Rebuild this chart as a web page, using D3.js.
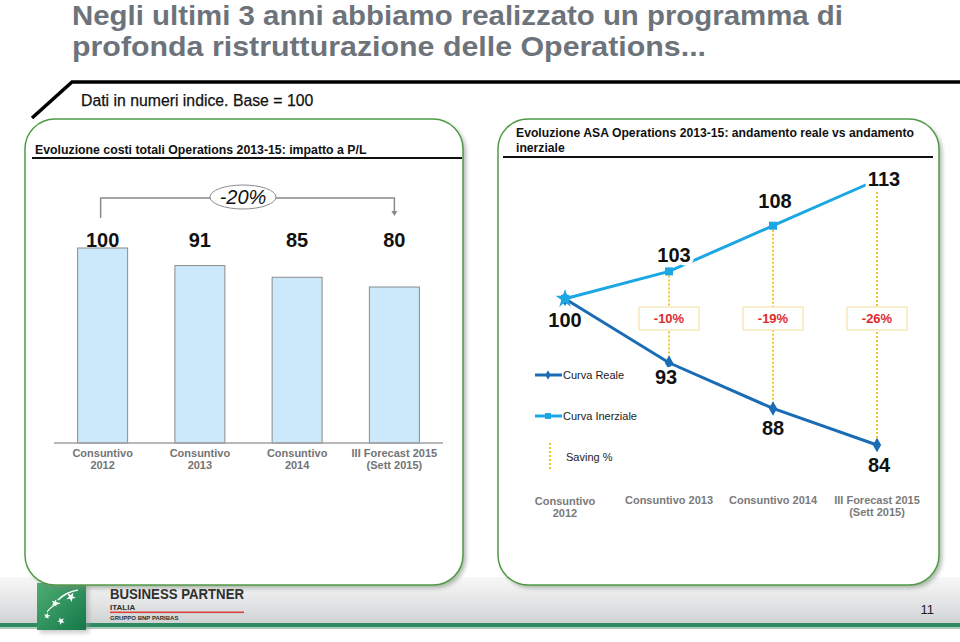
<!DOCTYPE html>
<html><head><meta charset="utf-8">
<script src="https://cdn.jsdelivr.net/npm/d3@7"></script>
<style>
html,body{margin:0;padding:0;background:#fff;}
svg{display:block;font-family:"Liberation Sans",Arial,Helvetica,sans-serif;}
</style></head>
<body>
<svg id="c" width="960" height="642"></svg>
<script>
// ---- data ----
const titleLines = ["Negli ultimi 3 anni abbiamo realizzato un programma di", "profonda ristrutturazione delle Operations..."];
const subtitle = "Dati in numeri indice. Base = 100";
const leftHeader = "Evoluzione costi totali Operations 2013-15: impatto a P/L";
const rightHeader = ["Evoluzione ASA Operations 2013-15: andamento reale vs andamento", "inerziale"];
const barCategories = [["Consuntivo","2012"],["Consuntivo","2013"],["Consuntivo","2014"],["III Forecast 2015","(Sett 2015)"]];
const barValues = [100, 91, 85, 80];
const totalChange = "-20%";
const lineCategories = [["Consuntivo","2012"],["Consuntivo 2013"],["Consuntivo 2014"],["III Forecast 2015","(Sett 2015)"]];
const realeValues = [100, 93, 88, 84];
const inerzialeValues = [100, 103, 108, 113];
const savingLabels = [null, "-10%", "-19%", "-26%"];
const legendLabels = ["Curva Reale", "Curva Inerziale", "Saving %"];
const pageNumber = "11";

const svg = d3.select("#c");
const defs = svg.append("defs");
const f = defs.append("filter").attr("id","sh").attr("x","-5%").attr("y","-5%").attr("width","115%").attr("height","115%");
f.append("feGaussianBlur").attr("stdDeviation",2);
const g1 = defs.append("linearGradient").attr("id","band").attr("x1",0).attr("y1",0).attr("x2",0).attr("y2",1);
g1.append("stop").attr("offset","0%").attr("stop-color","#f7f7f7");
g1.append("stop").attr("offset","60%").attr("stop-color","#e2e3e4");
g1.append("stop").attr("offset","100%").attr("stop-color","#cfd2d3");
const g2 = defs.append("linearGradient").attr("id","logo").attr("x1",0).attr("y1",0).attr("x2",1).attr("y2",1);
g2.append("stop").attr("offset","0%").attr("stop-color","#4fae72");
g2.append("stop").attr("offset","100%").attr("stop-color","#13774a");

// ---- footer ----
svg.append("rect").attr("x",0).attr("y",577).attr("width",960).attr("height",46).attr("fill","url(#band)");
svg.append("rect").attr("x",0).attr("y",623).attr("width",960).attr("height",4).attr("fill","#2f8a62");
svg.append("rect").attr("x",0).attr("y",627).attr("width",960).attr("height",2).attr("fill","#a9cdb8");
svg.append("rect").attr("x",40).attr("y",586).attr("width",49).attr("height",47).attr("fill","#999").attr("opacity",0.5).attr("filter","url(#sh)");
svg.append("rect").attr("x",37).attr("y",583).attr("width",49).attr("height",47).attr("fill","url(#logo)");
function star(cx, cy, r, rot){
  const pts=[];
  for(let i=0;i<10;i++){const a=rot+i*Math.PI/5; const rr=i%2?r*0.4:r; pts.push([cx+rr*Math.sin(a), cy-rr*Math.cos(a)]);}
  svg.append("path").attr("d","M"+pts.join("L")+"Z").attr("fill","#fff");
}
star(71,597,5,0.5); star(55,603,4,0.3); star(47,616,3.5,0.2); star(61,621,4,0.8);
svg.append("path").attr("d","M58,600 Q66,592 78,590").attr("stroke","#fff").attr("stroke-width",1.5).attr("fill","none");
svg.append("path").attr("d","M47,612 Q52,605 60,603").attr("stroke","#fff").attr("stroke-width",1.2).attr("fill","none");
svg.append("text").attr("x",110).attr("y",599).attr("font-size",14).attr("font-weight","bold").attr("fill","#2e2e2e").attr("textLength",134).attr("lengthAdjust","spacingAndGlyphs").text("BUSINESS PARTNER");
svg.append("text").attr("x",110).attr("y",609.5).attr("font-size",8).attr("font-weight","bold").attr("fill","#2e2e2e").text("ITALIA");
svg.append("rect").attr("x",110).attr("y",611.5).attr("width",134).attr("height",1.6).attr("fill","#d9443f");
svg.append("text").attr("x",110).attr("y",620).attr("font-size",6).attr("font-weight","bold").attr("fill","#2e2e2e").text("GRUPPO BNP PARIBAS");
svg.append("text").attr("x",934).attr("y",614).attr("font-size",13).attr("fill","#222").attr("text-anchor","end").text(pageNumber);

// ---- title ----
const titleWidths = [771, 634];
svg.selectAll("text.title").data(titleLines).enter().append("text")
  .attr("x",72).attr("y",(d,i)=>25+i*31).attr("font-size",27).attr("font-weight","bold").attr("fill","#6d737a")
  .attr("textLength",(d,i)=>titleWidths[i]).attr("lengthAdjust","spacingAndGlyphs").text(d=>d);
svg.append("path").attr("d","M32,118 L72,82 L960,82").attr("stroke","#000").attr("stroke-width",3.5).attr("fill","none");
svg.append("text").attr("x",81).attr("y",106).attr("font-size",15.8).attr("fill","#111").attr("stroke","#111").attr("stroke-width",0.25).text(subtitle);

// ---- panels ----
function panel(x,y,w,h){
  svg.append("rect").attr("x",x+3).attr("y",y+3).attr("width",w).attr("height",h).attr("rx",30).attr("fill","#7a8a78").attr("opacity",0.6).attr("filter","url(#sh)");
  svg.append("rect").attr("x",x).attr("y",y).attr("width",w).attr("height",h).attr("rx",30).attr("fill","#fff").attr("stroke","#4f9a45").attr("stroke-width",1.5);
}
panel(25,119,438,466);
panel(498,119,441,466);

svg.append("text").attr("x",35).attr("y",154).attr("font-size",12.3).attr("font-weight","bold").attr("fill","#111").text(leftHeader);
svg.append("line").attr("x1",32).attr("x2",462).attr("y1",158).attr("y2",158).attr("stroke","#111").attr("stroke-width",2);
svg.selectAll("text.rh").data(rightHeader).enter().append("text")
  .attr("x",516).attr("y",(d,i)=>137+i*15).attr("font-size",12.2).attr("font-weight","bold").attr("fill","#111").text(d=>d);
svg.append("line").attr("x1",503).attr("x2",933).attr("y1",157).attr("y2",157).attr("stroke","#111").attr("stroke-width",2);

// ---- bar chart ----
const xb = d3.scaleBand().domain(d3.range(barValues.length)).range([54,443]).paddingInner(0.486).paddingOuter(0.243);
const yb = d3.scaleLinear().domain([0,100]).range([443,248]);
svg.selectAll("rect.bar").data(barValues).enter().append("rect")
  .attr("x",(d,i)=>xb(i)).attr("y",d=>yb(d)).attr("width",xb.bandwidth()).attr("height",d=>yb(0)-yb(d))
  .attr("fill","#cce8fb").attr("stroke","#8a8a8a").attr("stroke-width",1);
svg.append("line").attr("x1",54).attr("x2",443).attr("y1",443).attr("y2",443).attr("stroke","#a0a0a0").attr("stroke-width",1.5);
svg.selectAll("text.bv").data(barValues).enter().append("text")
  .attr("x",(d,i)=>xb(i)+xb.bandwidth()/2).attr("y",247).attr("text-anchor","middle")
  .attr("font-size",20).attr("font-weight","bold").attr("fill","#111").text(d=>d);
barCategories.forEach((lines,i)=>{
  lines.forEach((l,j)=>{
    svg.append("text").attr("x",xb(i)+xb.bandwidth()/2).attr("y",457+j*11.5).attr("text-anchor","middle")
      .attr("font-size",11).attr("font-weight","bold").attr("fill","#747474").text(l);
  });
});
// bracket
const bx1 = xb(0)+xb.bandwidth()/2 - 2, bx2 = xb(3)+xb.bandwidth()/2;
svg.append("path").attr("d",`M${bx1},218 L${bx1},198 L${bx2},198 L${bx2},212`).attr("stroke","#8a8a8a").attr("stroke-width",1.5).attr("fill","none");
svg.append("path").attr("d",`M${bx2-3},211 L${bx2+3},211 L${bx2},216 Z`).attr("fill","#8a8a8a");
svg.append("ellipse").attr("cx",243).attr("cy",197).attr("rx",33).attr("ry",12).attr("fill","#fff").attr("stroke","#8a8a8a").attr("stroke-width",1);
svg.append("text").attr("x",243).attr("y",204).attr("text-anchor","middle").attr("font-size",20).attr("font-style","italic").attr("fill","#111").text(totalChange);

// ---- line chart ----
const xl = d3.scalePoint().domain(d3.range(lineCategories.length)).range([565,877]);
const yl = d3.scaleLinear().domain([84,113]).range([445,180]);
const cIn = "#1aa7e3", cRe = "#1a6cb4", cSav = "#f2c62a";
realeValues.forEach((v,i)=>{
  if(!savingLabels[i]) return;
  svg.append("line").attr("x1",xl(i)).attr("x2",xl(i)).attr("y1",yl(inerzialeValues[i])).attr("y2",yl(v))
    .attr("stroke",cSav).attr("stroke-width",2).attr("stroke-dasharray","2,2");
});
const line = d3.line().x((d,i)=>xl(i)).y(d=>yl(d));
svg.append("path").datum(inerzialeValues).attr("d",line).attr("fill","none").attr("stroke",cIn).attr("stroke-width",3);
svg.append("path").datum(realeValues).attr("d",line).attr("fill","none").attr("stroke",cRe).attr("stroke-width",3);
svg.selectAll("rect.mi").data(inerzialeValues).enter().append("rect")
  .attr("x",(d,i)=>xl(i)-4).attr("y",d=>yl(d)-4).attr("width",8).attr("height",8).attr("fill",cIn);
svg.selectAll("path.mr").data(realeValues).enter().append("path")
  .attr("d",d3.symbol().type(d3.symbolDiamond).size(60)).attr("transform",(d,i)=>`translate(${xl(i)},${yl(d)})`).attr("fill",cRe);
svg.append("path").attr("d",d3.symbol().type(d3.symbolStar).size(110)).attr("transform",`translate(${xl(0)},${yl(100)})`).attr("fill",cIn);
savingLabels.forEach((s,i)=>{
  if(!s) return;
  svg.append("rect").attr("x",xl(i)-30).attr("y",307).attr("width",60).attr("height",23).attr("fill","#fff").attr("stroke","#f3e3ad").attr("stroke-width",1.2);
  svg.append("text").attr("x",xl(i)).attr("y",323).attr("text-anchor","middle").attr("font-size",13).attr("font-weight","bold").attr("fill","#dd2b2b").text(s);
});
const inDx = [0,5,2,7], inDy = [0,-9,-18,6];
const reDy = [28,21,27,27], reDx = [0,-3,0,2];
inerzialeValues.forEach((v,i)=>{
  if(i===0) return;
  svg.append("text").attr("x",xl(i)+inDx[i]).attr("y",yl(v)+inDy[i]).attr("text-anchor","middle")
    .attr("font-size",20).attr("font-weight","bold").attr("fill","#111")
    .attr("stroke","#fff").attr("stroke-width",7).attr("paint-order","stroke").text(v);
});
realeValues.forEach((v,i)=>{
  svg.append("text").attr("x",xl(i)+reDx[i]).attr("y",yl(v)+reDy[i]).attr("text-anchor","middle")
    .attr("font-size",20).attr("font-weight","bold").attr("fill","#111")
    .attr("stroke","#fff").attr("stroke-width",7).attr("paint-order","stroke").text(v);
});
lineCategories.forEach((lines,i)=>{
  lines.forEach((l,j)=>{
    svg.append("text").attr("x",xl(i)).attr("y",(i===0 ? 505 : 504)+j*11.5).attr("text-anchor","middle")
      .attr("font-size",11).attr("font-weight","bold").attr("fill","#7a7a7a").text(l);
  });
});
// legend
svg.append("line").attr("x1",535).attr("x2",562).attr("y1",375).attr("y2",375).attr("stroke",cRe).attr("stroke-width",3);
svg.append("path").attr("d",d3.symbol().type(d3.symbolDiamond).size(25)).attr("transform","translate(548,375)").attr("fill",cRe);
svg.append("text").attr("x",563).attr("y",379).attr("font-size",11).attr("fill","#222").text(legendLabels[0]);
svg.append("line").attr("x1",535).attr("x2",562).attr("y1",416).attr("y2",416).attr("stroke",cIn).attr("stroke-width",3);
svg.append("rect").attr("x",545).attr("y",413).attr("width",6).attr("height",6).attr("fill",cIn);
svg.append("text").attr("x",563).attr("y",420).attr("font-size",11).attr("fill","#222").text(legendLabels[1]);
svg.append("line").attr("x1",550).attr("x2",550).attr("y1",443).attr("y2",470).attr("stroke",cSav).attr("stroke-width",2).attr("stroke-dasharray","2,2");
svg.append("text").attr("x",566).attr("y",461).attr("font-size",11).attr("fill","#222").text(legendLabels[2]);
</script>
</body></html>
